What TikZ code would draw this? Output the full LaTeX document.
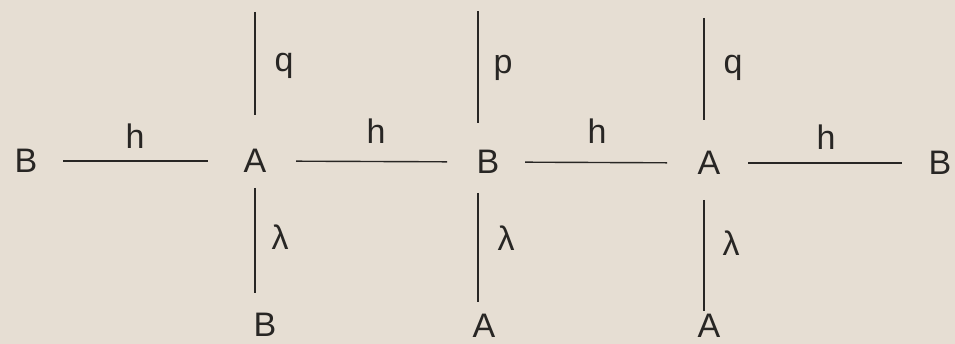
\documentclass[tikz,border=0pt]{standalone}
\usepackage{fontspec}
\setmainfont{Liberation Sans}
\definecolor{paper}{RGB}{230,222,211}
\definecolor{ink}{RGB}{40,38,36}
\begin{document}
\begin{tikzpicture}[x=1pt,y=1pt,
  letter/.style={inner sep=0pt,text=ink,font=\fontsize{34}{40}\selectfont},
  lab/.style={inner sep=0pt,text=ink,font=\fontsize{34}{40}\selectfont},
  bond/.style={draw=ink,line width=1.4pt}]
\fill[paper] (0,0) rectangle (955,-344);
\useasboundingbox (0,0) rectangle (955,-344);
% vertex letters
\node[letter] (B0) at (26,-161) {B};
\node[letter] (A1) at (255,-161) {A};
\node[letter] (B2) at (488,-162) {B};
\node[letter] (A2) at (709,-163) {A};
\node[letter] (B5) at (940,-163) {B};
\node[letter] (Bb1) at (265,-325) {B};
\node[letter] (Ab2) at (484,-326) {A};
\node[letter] (Ab3) at (709,-326) {A};
% free top ends
\coordinate (t1) at (255,-12);
\coordinate (t2) at (478,-11);
\coordinate (t3) at (704,-18);
% horizontal bonds
\draw[bond,shorten <=37pt,shorten >=47pt] (B0.center) -- (A1.center);
\draw[bond,shorten <=41pt,shorten >=41pt] (A1.center) -- (B2.center);
\draw[bond,shorten <=37pt,shorten >=42pt] (B2.center) -- (A2.center);
\draw[bond,shorten <=39pt,shorten >=38pt] (A2.center) -- (B5.center);
% vertical bonds
\draw[bond,shorten >=46pt] (t1) -- (t1 |- A1.center);
\draw[bond,shorten >=39pt] (t2) -- (t2 |- B2.center);
\draw[bond,shorten >=43pt] (t3) -- (t3 |- A2.center);
\draw[bond,shorten <=27pt,shorten >=32pt] (t1 |- A1.center) -- (t1 |- Bb1.center);
\draw[bond,shorten <=31pt,shorten >=24pt] (t2 |- B2.center) -- (t2 |- Ab2.center);
\draw[bond,shorten <=37pt,shorten >=15pt] (t3 |- A2.center) -- (t3 |- Ab3.center);
% bond labels
\node[lab] (h1) at (135,-136) {h};
\node[lab] (h2) at (376,-131) {h};
\node[lab] (h3) at (597,-131) {h};
\node[lab] (h4) at (826,-137) {h};
\node[lab] (q1) at (284,-66) {q};
\node[lab] (p1) at (503,-68) {p};
\node[lab] (q2) at (733,-68) {q};
\node[lab] (l1) at (280,-237) {λ};
\node[lab] (l2) at (506,-238) {λ};
\node[lab] (l3) at (731,-243) {λ};
\end{tikzpicture}
\end{document}
